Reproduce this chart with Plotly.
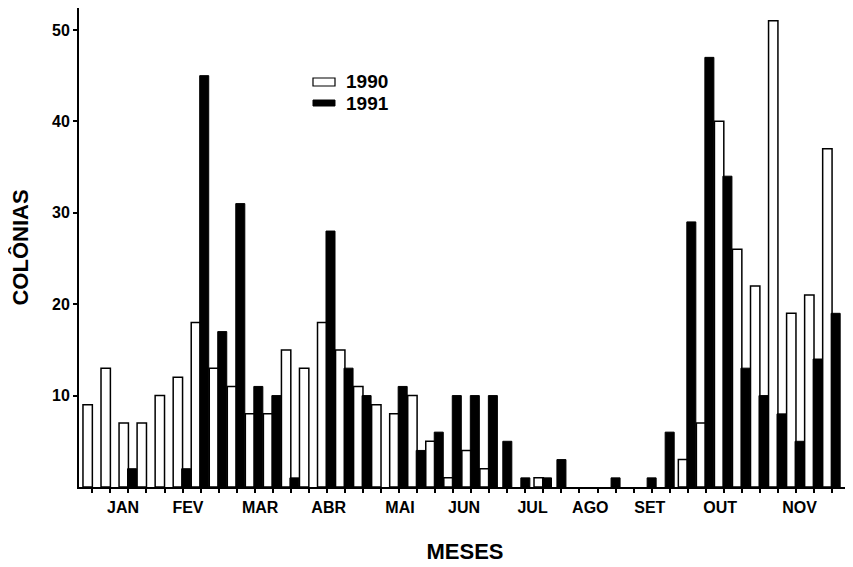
import plotly.graph_objects as go

# Data: 42 sampling slots (about 4 per month, Jan–Nov)
slots = list(range(42))
colonias_1990 = [9, 13, 7, 7, 10, 12, 18, 13, 11, 8, 8, 15, 13, 18, 15, 11, 9, 8, 10, 5,
                 1, 4, 2, 0, 0, 1, 0, 0, 0, 0, 0, 0, 0, 3, 7, 40, 26, 22, 51, 19, 21, 37]
colonias_1991 = [0, 0, 2, 0, 0, 2, 45, 17, 31, 11, 10, 1, 0, 28, 13, 10, 0, 11, 4, 6,
                 10, 10, 10, 5, 1, 1, 3, 0, 0, 1, 0, 1, 6, 29, 47, 34, 13, 10, 8, 5, 14, 19]
month_labels = ["JAN", "FEV", "MAR", "ABR", "MAI", "JUN", "JUL", "AGO", "SET", "OUT", "NOV"]
month_label_pos = [1.7, 5.3, 9.3, 13.1, 17.05, 20.6, 24.4, 27.6, 30.9, 34.8, 39.2]
y_ticks = [10, 20, 30, 40, 50]

FONT = "Liberation Sans, Arial, sans-serif"

# empty slots are simply not drawn
y1990 = [v if v else None for v in colonias_1990]
y1991 = [v if v else None for v in colonias_1991]
# black bars are centred in the slot when no 1990 bar is present
black_offsets = [-0.25 if w == 0 else -0.05 for w in colonias_1990]

fig = go.Figure()
fig.add_trace(go.Bar(
    x=slots, y=y1990, name="1990",
    marker=dict(color="white", line=dict(color="black", width=1.5)),
    width=0.52, offset=-0.52,
))
fig.add_trace(go.Bar(
    x=slots, y=y1991, name="1991",
    marker=dict(color="black", line=dict(color="black", width=1)),
    width=0.5, offset=black_offsets,
))

# the page body adds an 8px margin, so the plot margins are reduced accordingly
fig.update_layout(
    width=853, height=567,
    margin=dict(l=71, r=10, t=0, b=88),
    plot_bgcolor="white", paper_bgcolor="white",
    showlegend=False,
    barmode="overlay",
    font=dict(family=FONT, color="black"),
    xaxis=dict(
        range=[-0.74, 42.05], automargin=False,
        showline=True, linecolor="black", linewidth=2,
        showgrid=False, zeroline=False,
        tickmode="array", tickvals=month_label_pos, ticktext=month_labels,
        ticks="", ticklen=0, ticklabelstandoff=5,
        tickfont=dict(family=FONT, size=16, weight="bold"),
        minor=dict(ticks="outside", dtick=1, tick0=0, ticklen=4, tickwidth=1.5, tickcolor="black"),
        title=dict(text="MESES", font=dict(family=FONT, size=22, weight="bold"), standoff=28),
    ),
    yaxis=dict(
        range=[0, 52.4], automargin=False,
        showline=True, linecolor="black", linewidth=2,
        showgrid=False, zeroline=False,
        tickmode="array", tickvals=y_ticks,
        ticks="outside", ticklen=4, tickwidth=1.5, tickcolor="black",
        tickfont=dict(family=FONT, size=16, weight="bold"),
        title=dict(text="COLÔNIAS", font=dict(family=FONT, size=22, weight="bold"), standoff=26),
    ),
)

# legend drawn as boxes + labels (paper coords of the plot area)
fig.add_shape(type="rect", xref="paper", yref="paper",
              x0=0.3031, x1=0.3316, y0=0.8372, y1=0.8539,
              line=dict(color="black", width=1.2), fillcolor="white")
fig.add_shape(type="rect", xref="paper", yref="paper",
              x0=0.3031, x1=0.3316, y0=0.7954, y1=0.8079,
              line=dict(color="black", width=1), fillcolor="black")
fig.add_annotation(xref="paper", yref="paper", x=0.343, y=0.846, text="1990",
                   showarrow=False, xanchor="left", yanchor="middle",
                   font=dict(family=FONT, size=19, weight="bold"))
fig.add_annotation(xref="paper", yref="paper", x=0.343, y=0.801, text="1991",
                   showarrow=False, xanchor="left", yanchor="middle",
                   font=dict(family=FONT, size=19, weight="bold"))

fig.write_html("out.html")
